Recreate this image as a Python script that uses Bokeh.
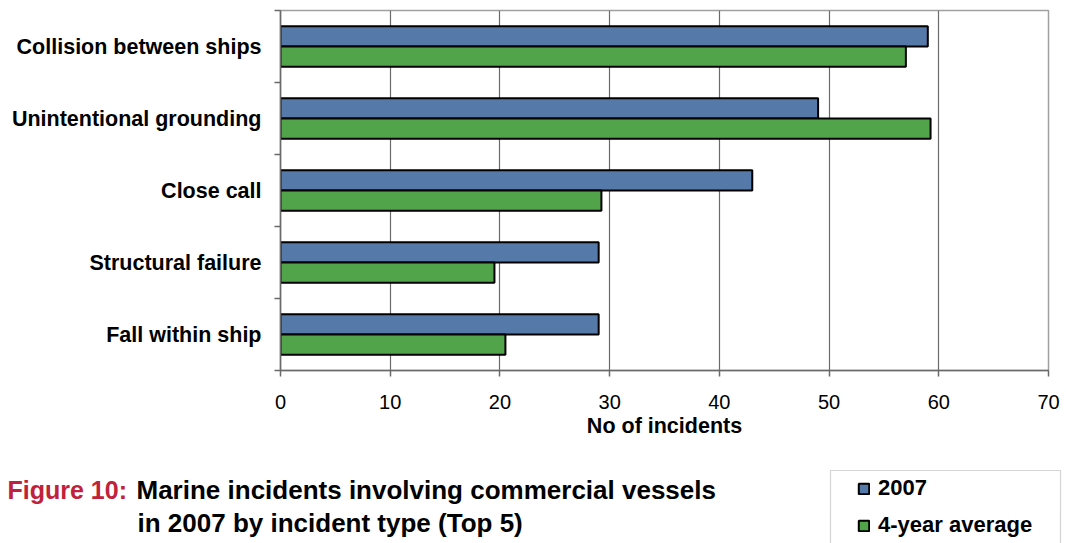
from bokeh.plotting import figure
from bokeh.layouts import column, row
from bokeh.models import (BoxAnnotation, ColumnDataSource, FixedTicker, Label, Legend,
                          LegendItem, Range1d)
from bokeh.transform import dodge
from bokeh.embed import file_html
from bokeh.resources import INLINE

# Top 5 incident types, listed top to bottom
categories = ["Collision between ships", "Unintentional grounding", "Close call",
              "Structural failure", "Fall within ship"]
incidents_2007 = [59, 49, 43, 29, 29]
four_year_average = [57, 59.25, 29.25, 19.5, 20.5]
x_ticks = [0, 10, 20, 30, 40, 50, 60, 70]
series_names = ["2007", "4-year average"]

BLUE = "#5579A9"
GREEN = "#52A44B"
FONT = "Liberation Sans"
AXIS_GREY = "#6A6A6A"

W = 1066
H_CHART = 440
H_CAPTION = 103

n = len(categories)
ypos = [n - i - 0.5 for i in range(n)]
src = ColumnDataSource(dict(y=ypos, cat=categories,
                            v2007=incidents_2007, vavg=four_year_average))

p = figure(width=W, height=H_CHART, output_backend="svg", toolbar_location=None,
           x_range=Range1d(0, 70), y_range=Range1d(0, n),
           min_border_left=280, min_border_right=18, min_border_top=10,
           min_border_bottom=70)
p.background_fill_color = "white"
p.border_fill_color = "white"
p.outline_line_color = "#A0A0A0"
p.outline_line_width = 1.5

bar_h = 0.28
bar_style = dict(line_color="black", line_width=2)
p.hbar(y=dodge("y", 0.14, range=p.y_range), right="v2007", left=0, height=bar_h,
       source=src, fill_color=BLUE, **bar_style)
p.hbar(y=dodge("y", -0.14, range=p.y_range), right="vavg", left=0, height=bar_h,
       source=src, fill_color=GREEN, **bar_style)

# x axis
p.xaxis.ticker = FixedTicker(ticks=x_ticks)
p.xaxis.axis_label = "No of incidents"
p.xaxis.axis_label_text_font = FONT
p.xaxis.axis_label_text_font_style = "bold"
p.xaxis.axis_label_text_font_size = "21.5px"
p.xaxis.axis_label_text_color = "black"
p.xaxis.axis_label_standoff = 2
p.xaxis.major_label_text_font = FONT
p.xaxis.major_label_text_font_size = "20px"
p.xaxis.major_label_text_color = "black"
p.xaxis.major_label_standoff = 18
p.xaxis.major_tick_out = 6
p.xaxis.major_tick_in = 0
p.xaxis.minor_tick_line_color = None
p.xaxis.axis_line_color = AXIS_GREY
p.xaxis.axis_line_width = 1.5
p.xaxis.major_tick_line_color = AXIS_GREY
p.xaxis.major_tick_line_width = 1.5

# y axis: labels at band centres, tick marks at band boundaries
p.yaxis.ticker = FixedTicker(ticks=ypos, minor_ticks=list(range(n + 1)))
p.yaxis.major_label_overrides = {y: c for y, c in zip(ypos, categories)}
p.yaxis.major_label_text_font = FONT
p.yaxis.major_label_text_font_style = "bold"
p.yaxis.major_label_text_font_size = "21.5px"
p.yaxis.major_label_text_color = "black"
p.yaxis.major_label_standoff = 13
p.yaxis.major_tick_line_color = None
p.yaxis.major_tick_out = 0
p.yaxis.major_tick_in = 0
p.yaxis.minor_tick_out = 6
p.yaxis.minor_tick_in = 0
p.yaxis.minor_tick_line_color = AXIS_GREY
p.yaxis.minor_tick_line_width = 1.5
p.yaxis.axis_line_color = AXIS_GREY
p.yaxis.axis_line_width = 1.5

p.xgrid.ticker = FixedTicker(ticks=x_ticks[1:-1])
p.xgrid.grid_line_color = "#6A6A6A"
p.xgrid.grid_line_width = 1.2
p.ygrid.grid_line_color = None

# caption strip with the figure title and the legend, in pixel-like coordinates
c = figure(width=W, height=H_CAPTION, output_backend="svg", toolbar_location=None,
           x_range=Range1d(0, W), y_range=Range1d(H_CAPTION, 0),
           min_border=0, min_border_left=0, min_border_right=0,
           min_border_top=0, min_border_bottom=0,
           x_axis_type=None, y_axis_type=None)
c.outline_line_color = None
c.grid.grid_line_color = None
c.background_fill_color = "white"
c.border_fill_color = "white"

cap = dict(text_font=FONT, text_font_style="bold", text_baseline="alphabetic")
c.add_layout(Label(x=7, y=49, text="Figure 10:", text_color="#C0213B",
                   text_font_size="25px", **cap))
c.add_layout(Label(x=136, y=49, text="Marine incidents involving commercial vessels",
                   text_color="black", text_font_size="26px", **cap))
c.add_layout(Label(x=137, y=82, text="in 2007 by incident type (Top 5)",
                   text_color="black", text_font_size="26px", **cap))

# legend swatches come from hidden copies of the two bar series
k1 = c.hbar(y="y", right="v2007", left=0, height=bar_h, source=src,
            fill_color=BLUE, visible=False, **bar_style)
k2 = c.hbar(y="y", right="vavg", left=0, height=bar_h, source=src,
            fill_color=GREEN, visible=False, **bar_style)
c.add_layout(BoxAnnotation(left=830, right=1060, top=30, bottom=112,
                           fill_color=None, line_color="#6F6F6F", line_width=1.2))
legend = Legend(items=[LegendItem(label=series_names[0], renderers=[k1]),
                       LegendItem(label=series_names[1], renderers=[k2])],
                location=(857, 5))
legend.label_text_font = FONT
legend.label_text_font_style = "bold"
legend.label_text_font_size = "22px"
legend.label_text_color = "black"
legend.glyph_width = 13
legend.glyph_height = 13
legend.label_height = 26
legend.label_standoff = 8
legend.spacing = 11
legend.padding = 0
legend.margin = 0
legend.border_line_color = None
legend.background_fill_alpha = 0
legend.inactive_fill_alpha = 0
c.add_layout(legend)

open("out.html", "w").write(file_html(column(p, row(c), spacing=0), INLINE))
